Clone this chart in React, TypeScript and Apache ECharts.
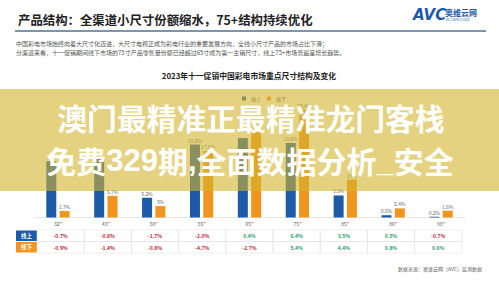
import React, { useEffect, useRef } from "react";
import * as echarts from "echarts";

const categories = ['32"', '43"', '50"', '55"', '65"', '75"', '85"', '86"', '98"'];
const onlineShare = [14.8, 15.6, 5.2, 19.2, 20.9, 19.6, 5.8, 0.6, 0.2];
const offlineShare = [1.7, 5.7, 3.0, 17.5, 22.5, 28.4, 10, 2.4, 1.8];
// labels that are buried under the banner text in the reference
const onlineHiddenLabels = [0, 1, 4];
const offlineHiddenLabels = [4];
const onlineChange = ["-0.7%", "-0.8%", "-1.7%", "-2.0%", "0.4%", "6.4%", "3.5%", "0.5%", "-0.7%"];
const offlineChange = ["-0.9%", "-1.4%", "-0.8%", "-4.7%", "-2.7%", "5.4%", "4.4%", "0.8%", "0.6%"];
const seriesNames = ["线上", "线下"];

const titleText = "产品结构：全渠道小尺寸份额缩水，75+结构持续优化";
const bodyLines = [
  "中国彩电市场始终向着大尺寸化迈进，大尺寸电视正成为彩电行业的重要发展方向，全线小尺寸产品的市场占比下滑；",
  "分渠道来看，十一促销期间线下市场的75寸产品零售量份额已经超过65寸成为第一主销尺寸，线上75+市场普遍呈增长趋势。",
];
const chartTitle = "2023年十一促销中国彩电市场重点尺寸结构及变化";
const bannerLine1 = "澳门最精准正最精准龙门客栈";
const bannerLine2 = "{c|免费}{a|329}{c|期}{a|,}{c|全面数据分析}{a|_}{c|安全}";
const sourceText = "数据来源：奥维云网（AVC）监测数据";

const FONT = "'Noto Sans CJK SC', 'Noto Sans', sans-serif";
const BLUE = "#1d5aa8";
const ORANGE = "#f2951f";

export default function App() {
  const ref = useRef<HTMLDivElement>(null);
  useEffect(() => {
    if (!ref.current) return;
    const chart = echarts.init(ref.current, null, { renderer: "svg" });

    const tableLeft = 37;
    const colW = 47.2;
    const rowTop = 230;
    const rowH = 11.5;
    const rows = [onlineChange, offlineChange];
    const rowColors = [BLUE, ORANGE];
    const tableEls: any[] = [];
    rows.forEach((row, r) => {
      const y = rowTop + r * rowH;
      tableEls.push({
        type: "rect",
        shape: { x: 16, y: y + 0.5, width: 21, height: rowH - 1 },
        style: { fill: rowColors[r] },
      });
      tableEls.push({
        type: "text",
        style: {
          x: 26.5, y: y + rowH / 2, text: seriesNames[r], fill: "#fff",
          fontSize: 5.5, fontWeight: "bold", fontFamily: FONT, align: "center", verticalAlign: "middle",
        },
      });
      row.forEach((v, i) => {
        const x = tableLeft + i * colW;
        tableEls.push({
          type: "rect",
          shape: { x, y, width: colW, height: rowH },
          style: { fill: "none", stroke: "#e3e3e3", lineWidth: 0.6 },
        });
        tableEls.push({
          type: "text",
          style: {
            x: x + colW / 2, y: y + rowH / 2, text: v,
            fill: v.startsWith("-") ? "#b8283a" : "#2a9d6a",
            fontSize: 5, fontWeight: "bold", fontFamily: FONT, align: "center", verticalAlign: "middle",
          },
        });
      });
    });

    const toData = (vals: number[], hidden: number[]) =>
      vals.map((v, i) => (hidden.includes(i) ? { value: v, label: { show: false } } : v));

    const labelCfg = {
      show: true, position: "top", distance: 2, fontSize: 5, color: "#666",
      formatter: (p: any) => p.value + "%",
    };

    const option: any = {
      animation: false,
      backgroundColor: "#ffffff",
      textStyle: { fontFamily: FONT },
      grid: { left: 34, right: 34, top: 103.5, bottom: 63.5 },
      legend: {
        data: seriesNames,
        left: 237, top: 91,
        icon: "rect", itemWidth: 4, itemHeight: 4, itemGap: 6,
        textStyle: { fontSize: 5, color: "#555", fontFamily: FONT },
      },
      xAxis: {
        type: "category",
        data: categories,
        axisLine: { lineStyle: { color: "#d8d8d8", width: 0.6 } },
        axisTick: { show: false },
        axisLabel: { fontSize: 5, color: "#555", margin: 3, fontFamily: FONT },
      },
      yAxis: { type: "value", min: 0, max: 30, show: false },
      series: [
        {
          name: seriesNames[0], type: "bar", data: toData(onlineShare, onlineHiddenLabels), barWidth: 10, barGap: "33%",
          itemStyle: { color: BLUE },
          label: labelCfg,
        },
        {
          name: seriesNames[1], type: "bar", data: toData(offlineShare, offlineHiddenLabels), barWidth: 10,
          itemStyle: { color: ORANGE },
          label: labelCfg,
        },
      ],
      graphic: [
        {
          type: "text", z: 10,
          style: { x: 18, y: 20, text: titleText, fill: "#222", fontSize: 12.4, fontWeight: "bold", fontFamily: FONT, verticalAlign: "middle" },
        },
        {
          type: "text", z: 10,
          style: { x: 413, y: 15, text: "AVC", fill: BLUE, fontSize: 15, fontWeight: "bold", fontStyle: "italic", fontFamily: "DejaVu Sans", verticalAlign: "middle" },
        },
        {
          type: "text", z: 10,
          style: { x: 445, y: 12, text: "奥维云网", fill: BLUE, fontSize: 8, fontWeight: "bold", fontFamily: FONT, verticalAlign: "middle" },
        },
        {
          type: "text", z: 10,
          style: { x: 446, y: 20, text: "ALL VIEW CLOUD", fill: BLUE, fontSize: 3, fontFamily: FONT, verticalAlign: "middle" },
        },
        {
          type: "line", z: 10,
          shape: { x1: 15, y1: 31, x2: 486, y2: 31 },
          style: { stroke: "#52708f", lineWidth: 1.6 },
        },
        ...bodyLines.map((t, i) => ({
          type: "text", z: 10,
          style: { x: 16, y: 43 + i * 9.5, text: t, fill: "#555", fontSize: 6, fontFamily: FONT, verticalAlign: "middle" },
        })),
        {
          type: "text", z: 10,
          style: { x: 249, y: 75, text: chartTitle, fill: "#222", fontSize: 7.8, fontWeight: "bold", fontFamily: FONT, align: "center", verticalAlign: "middle" },
        },
        ...tableEls,
        {
          type: "text", z: 10,
          style: { x: 482, y: 268, text: sourceText, fill: "#666", fontSize: 5, fontFamily: FONT, align: "right", verticalAlign: "middle" },
        },
        {
          type: "rect", z: 100,
          shape: { x: 0, y: 89, width: 499, height: 102 },
          style: { fill: "rgba(210,180,45,0.6)" },
        },
        {
          type: "text", z: 101,
          style: {
            x: 251, y: 117, text: bannerLine1, fill: "#ffffff", fontSize: 29.8, fontWeight: "bold",
            fontFamily: FONT, align: "center", verticalAlign: "middle",
          },
        },
        {
          type: "text", z: 101,
          style: {
            x: 250, y: 160, text: bannerLine2, fill: "#ffffff", fontSize: 30, fontWeight: "bold",
            fontFamily: FONT, align: "center", verticalAlign: "middle",
            rich: {
              c: { fontSize: 30, fontWeight: "bold", fontFamily: FONT, fill: "#ffffff" },
              a: { fontSize: 31, fontWeight: "bold", fontFamily: "'Liberation Sans', Arial, sans-serif", fill: "#ffffff" },
            },
          },
        },
      ],
    };
    chart.setOption(option);
    return () => chart.dispose();
  }, []);
  return <div ref={ref} style={{ position: "absolute", left: 0, top: 0, width: 499, height: 281 }} />;
}
